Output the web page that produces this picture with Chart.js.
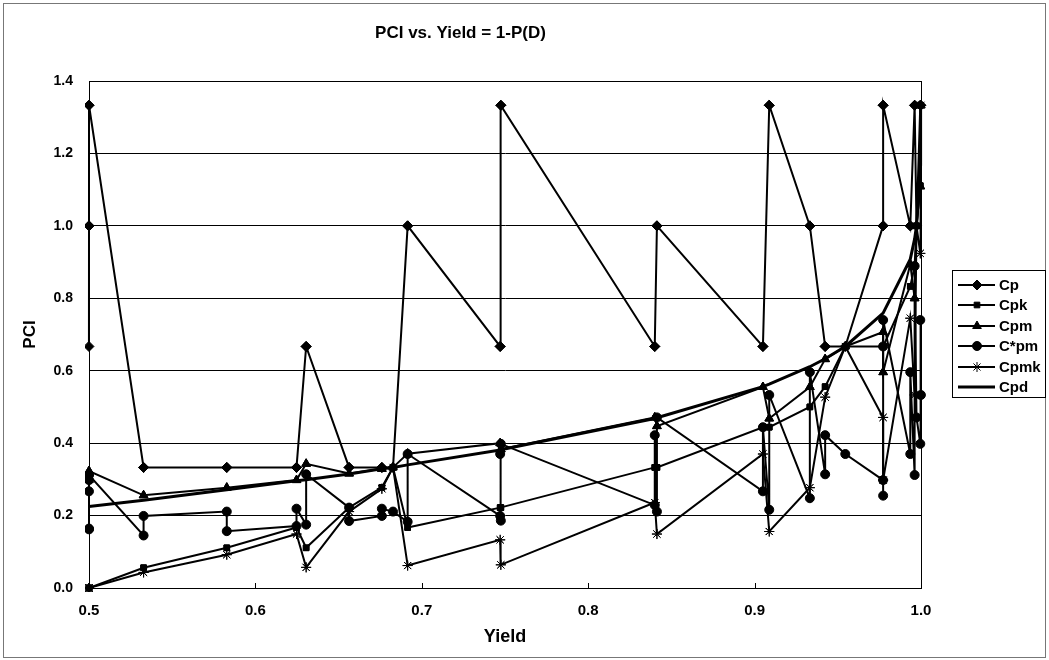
<!DOCTYPE html>
<html><head><meta charset="utf-8">
<script src="https://cdn.jsdelivr.net/npm/chart.js@4.4.1/dist/chart.umd.min.js"></script>
<style>html,body{margin:0;padding:0;background:#fff}#wrap{width:1049px;height:660px;position:relative}</style>
</head><body><div id="wrap"><canvas id="c" width="1049" height="660"></canvas></div>
<script>
// Yield = 1 - P(D) for each row of the table (sorted by yield)
const yields = [0.4772,0.4772,0.49997,0.49997,0.5,0.5,0.5,0.5,0.5328,0.5328,
  0.5828,0.5828,0.6247,0.6247,0.6305,0.6305,0.6563,0.6563,0.6760,0.6760,
  0.6827,0.6915,0.6915,0.7471,0.7471,0.7475,0.7475,0.8400,0.8400,0.8413,
  0.8413,0.9050,0.9050,0.9088,0.9088,0.9332,0.9332,0.9424,0.9424,0.9545,
  0.97722,0.97722,0.97725,0.97725,0.99356,0.99356,0.99617,0.99617,0.9973,0.99957,
  0.99957,0.99994];
const cp = [0.333,0.333,0.667,0.667,1.0,1.0,1.333,1.333,0.333,0.333,
  0.333,0.333,0.333,0.333,0.667,0.667,0.333,0.333,0.333,0.333,
  0.333,1.0,1.0,0.667,0.667,1.333,1.333,0.667,0.667,1.0,
  1.0,0.667,0.667,1.333,1.333,1.0,1.0,0.667,0.667,0.667,
  1.0,1.0,1.333,1.333,1.0,1.0,1.333,1.333,1.0,1.333,
  1.333,1.333];
const cpk = [0,0,0,0,0,0,0,0,0.056,0.056,
  0.111,0.111,0.167,0.167,0.111,0.111,0.222,0.222,0.278,0.278,
  0.333,0.167,0.167,0.222,0.222,0.222,0.222,0.333,0.333,0.333,
  0.333,0.444,0.444,0.444,0.444,0.5,0.5,0.556,0.556,0.667,
  0.667,0.667,0.667,0.667,0.833,0.833,0.889,0.889,1.0,1.111,
  1.111,1.333];
const cpm = [0.236,0.236,0.298,0.298,0.316,0.316,0.323,0.323,0.256,0.256,
  0.277,0.277,0.298,0.298,0.343,0.343,0.316,0.316,0.329,0.329,
  0.333,0.371,0.371,0.400,0.400,0.383,0.383,0.471,0.471,0.447,
  0.447,0.555,0.555,0.468,0.468,0.555,0.555,0.632,0.632,0.667,
  0.707,0.707,0.596,0.596,0.894,0.894,0.800,0.800,1.0,1.109,
  1.109,1.333];
const cStarPm = [0.185,0.133,0.156,0.267,0.298,0.162,0.164,0.312,0.145,0.199,
  0.211,0.157,0.171,0.219,0.175,0.314,0.222,0.185,0.199,0.219,
  0.211,0.183,0.370,0.199,0.370,0.186,0.398,0.229,0.422,0.211,
  0.471,0.267,0.444,0.216,0.533,0.248,0.596,0.314,0.422,0.370,
  0.298,0.667,0.255,0.740,0.370,0.596,0.312,0.889,0.471,0.398,
  0.740,0.533];
const cpmk = [0,0,0,0,0,0,0,0,0.043,0.043,
  0.092,0.092,0.149,0.149,0.057,0.057,0.211,0.211,0.274,0.274,
  0.333,0.062,0.062,0.133,0.133,0.064,0.064,0.236,0.236,0.149,
  0.149,0.370,0.370,0.156,0.156,0.277,0.277,0.527,0.527,0.667,
  0.471,0.471,0.298,0.298,0.745,0.745,0.533,0.533,1.0,0.924,
  0.924,1.333];
const cpd = [0.213,0.213,0.225,0.225,0.225,0.225,0.225,0.225,0.242,0.242,
  0.271,0.271,0.296,0.296,0.299,0.299,0.315,0.315,0.329,0.329,
  0.333,0.340,0.340,0.381,0.381,0.382,0.382,0.468,0.468,0.470,
  0.470,0.556,0.556,0.563,0.563,0.611,0.611,0.633,0.633,0.667,
  0.759,0.759,0.759,0.759,0.908,0.908,0.964,0.964,1.0,1.17,
  1.17,1.333];
const seriesNames = ['Cp','Cpk','Cpm','C*pm','Cpmk','Cpd'];
const xTickValues = [0.5,0.6,0.7,0.8,0.9,1.0];
const xTickLabels = ['0.5','0.6','0.7','0.8','0.9','1.0'];
const yTickValues = [0,0.2,0.4,0.6,0.8,1.0,1.2,1.4];
const yTickLabels = ['0.0','0.2','0.4','0.6','0.8','1.0','1.2','1.4'];

const seriesValues = [cp, cpk, cpm, cStarPm, cpmk, cpd];
const styles = [
  {pointStyle:'rectRot', pointRadius:5, borderWidth:2},
  {pointStyle:'rect', pointRadius:4, borderWidth:2},
  {pointStyle:'triangle', pointRadius:5, borderWidth:2},
  {pointStyle:'circle', pointRadius:4.5, borderWidth:2},
  {pointStyle:'star', pointRadius:5, borderWidth:2},
  {pointStyle:false, pointRadius:0, borderWidth:3}
];
const FONT = '"Liberation Sans", Arial, Helvetica, sans-serif';

const datasets = seriesNames.map((name, i) => ({
  label: name,
  data: yields.map((x, j) => ({x: x, y: seriesValues[i][j]})),
  showLine: true,
  borderColor: '#000',
  backgroundColor: '#000',
  borderWidth: styles[i].borderWidth,
  pointStyle: styles[i].pointStyle,
  pointRadius: styles[i].pointRadius,
  pointBorderWidth: 1,
  pointBorderColor: '#000',
  pointBackgroundColor: '#000',
  pointHoverRadius: styles[i].pointRadius,
  tension: 0,
  clip: {left: 4, top: 8, right: 8, bottom: 4}
}));

const framePlugin = {
  id: 'frame',
  beforeDraw(chart) {
    const ctx = chart.ctx;
    ctx.save();
    ctx.fillStyle = '#fff';
    ctx.fillRect(0, 0, chart.width, chart.height);
    ctx.restore();
  },
  afterDraw(chart) {
    const ctx = chart.ctx;
    const a = chart.chartArea;
    ctx.save();
    // plot area border
    ctx.strokeStyle = '#000';
    ctx.lineWidth = 1;
    ctx.strokeRect(Math.round(a.left) + 0.5, Math.round(a.top) + 0.5,
      Math.round(a.right - a.left), Math.round(a.bottom - a.top));
    // inward tick marks on x axis
    const xs = chart.scales.x;
    xTickValues.forEach(v => {
      const px = Math.round(xs.getPixelForValue(v)) + 0.5;
      ctx.beginPath();
      ctx.moveTo(px, a.bottom);
      ctx.lineTo(px, a.bottom - 5);
      ctx.stroke();
    });
    // outer frame
    ctx.strokeStyle = '#777';
    ctx.strokeRect(3.5, 3.5, chart.width - 7, chart.height - 6);
    // legend
    const lx = 952.5, ly = 270.5, lw = 93, lh = 127;
    ctx.strokeStyle = '#000';
    ctx.lineWidth = 1;
    ctx.strokeRect(lx, ly, lw, lh);
    const rowY = [285, 305, 326, 346, 367, 387];
    chart.data.datasets.forEach((ds, i) => {
      const y = rowY[i];
      ctx.strokeStyle = '#000';
      ctx.fillStyle = '#000';
      ctx.lineWidth = ds.borderWidth;
      ctx.beginPath();
      ctx.moveTo(958, y);
      ctx.lineTo(995, y);
      ctx.stroke();
      if (ds.pointStyle) {
        ctx.lineWidth = 1;
        Chart.helpers.drawPoint(ctx, {pointStyle: ds.pointStyle, radius: ds.pointRadius, borderWidth: ds.pointStyle === 'star' ? 2 : 1, rotation: 0}, 977, y);
      }
      ctx.font = 'bold 15px ' + FONT;
      ctx.textBaseline = 'middle';
      ctx.textAlign = 'left';
      ctx.fillText(ds.label, 999, y + 1);
    });
    ctx.restore();
  }
};

new Chart(document.getElementById('c'), {
  type: 'scatter',
  data: {datasets},
  plugins: [framePlugin],
  options: {
    responsive: false,
    devicePixelRatio: 1,
    animation: false,
    layout: {padding: {left: 0, right: 128, top: 0, bottom: 12}},
    plugins: {
      legend: {display: false},
      tooltip: {enabled: false},
      title: {
        display: true,
        text: 'PCI vs. Yield = 1-P(D)',
        color: '#000',
        font: {family: FONT, size: 17, weight: 'bold'},
        padding: {top: 23, bottom: 37.6}
      }
    },
    scales: {
      x: {
        type: 'linear',
        min: 0.5, max: 1.0,
        afterFit(s) { s.height = 60; },
        afterBuildTicks(s) { s.ticks = xTickValues.map(v => ({value: v})); },
        ticks: {
          color: '#000',
          font: {family: FONT, size: 15, weight: 'bold'},
          padding: 14,
          maxRotation: 0,
          callback: (v) => { const k = xTickValues.findIndex(t => Math.abs(t - v) < 1e-9); return k >= 0 ? xTickLabels[k] : ''; }
        },
        grid: {display: false, drawTicks: false},
        border: {display: true, color: '#000', width: 1},
        title: {display: true, text: 'Yield', color: '#000', font: {family: FONT, size: 18, weight: 'bold'}, padding: {top: 6, bottom: 0}}
      },
      y: {
        type: 'linear',
        min: 0, max: 1.4,
        afterFit(s) { s.width = 89; },
        afterBuildTicks(s) { s.ticks = yTickValues.map(v => ({value: v})); },
        ticks: {
          color: '#000',
          font: {family: FONT, size: 14, weight: 'bold'},
          padding: 16,
          callback: (v) => { const k = yTickValues.findIndex(t => Math.abs(t - v) < 1e-9); return k >= 0 ? yTickLabels[k] : ''; }
        },
        grid: {color: '#000', lineWidth: 1, drawTicks: false},
        border: {display: true, color: '#000', width: 1},
        title: {display: true, text: 'PCI', color: '#000', font: {family: FONT, size: 17, weight: 'bold'}, padding: {top: 20, bottom: 0}}
      }
    }
  }
});
</script>
</body></html>
